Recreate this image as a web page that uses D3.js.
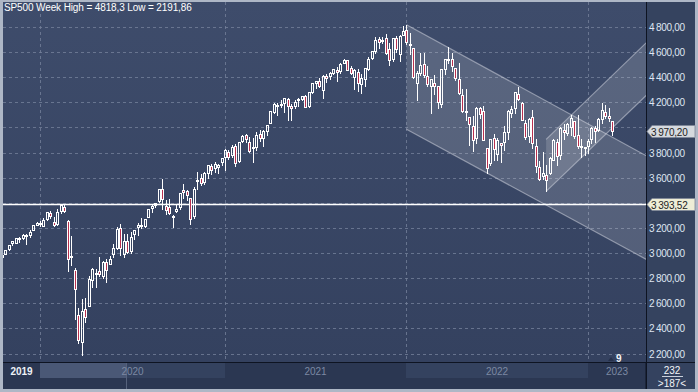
<!DOCTYPE html>
<html><head><meta charset="utf-8">
<script src="https://cdn.jsdelivr.net/npm/d3@7"></script>
<style>html,body{margin:0;padding:0;background:#aeb7c6;}svg{display:block;}</style>
</head><body>
<svg id="c" width="698" height="392"></svg>
<script>
// ---- DATA (weekly SP500 candles, week of 2019-10-14 .. 2023-02-21) ----
const weekStart = "2019-10-14";
const opens = [2965,2996,3032,3078,3080,3123,3117,3144,3141,3183,3226,
3240,3218,3271,3321,3248,3235,3335,3370,3257,2974,2863,2509,2290,2558,2578,2782,2845,2854,2815,2931,2913,2993,3038,3199,2993,3094,3018,3155,3205,3224,3219,3289,3356,3380,3418,3509,3371,3363,3285,3333,3368,3500,3493,3441,3296,3583,3600,3566,3641,3694,3675,3684,3723,
3764,3803,3781,3851,3732,3892,3939,3885,3842,3844,3949,3917,3969,4034,4124,4179,4185,4191,4228,4169,4170,4216,4229,4248,4173,4284,4356,4372,4296,4409,4406,4437,4461,4450,4514,4535,4474,4402,4442,4348,4385,4463,4553,4611,4701,4689,4712,4628,4548,4710,4588,4733,
4778,4655,4632,4356,4431,4505,4412,4332,4354,4327,4188,4462,4541,4547,4474,4385,4255,4131,4081,4013,3920,4151,4134,3838,3715,3920,3792,3880,3883,3966,4113,4155,4270,4195,4034,3930,4084,3849,3682,3610,3625,3638,3740,3881,3780,3977,3956,4006,4053,3940,3853,3843,
3853,3910,3999,3979,4071,4120,4095,4052];
const highs = [3000,3027,3066,3098,3121,3127,3154,3150,3183,3226,3247,
3258,3282,3330,3337,3285,3347,3385,3393.52,3260,3137,2882,2562,2637,2641,2818,2880,2870,2965,2933,2955,2980,3068,3211,3233,3155,3155,3165,3185,3240,3280,3272,3352,3387,3399,3509,3588,3425,3428,3306,3393,3482,3550,3502,3441,3529,3646,3628,3645,3699,3712,3726,3711,3760,
3826,3823,3861,3871,3887,3937,3950,3928,3914,3960,3983,3978,4020,4129,4191,4194,4218,4238,4237,4187,4220,4234,4249,4262,4286,4356,4372,4393,4415,4429,4440,4469,4481,4510,4545,4536,4492,4465,4465,4429,4475,4559,4608,4719,4718,4718,4744,4672,4713,4731,4740,4808,
4818.3,4749,4632,4453,4595,4590,4489,4385,4416,4327,4465,4546,4637,4593,4475,4513,4308,4307,4081,4091,4159,4166,4169,3838,3912,3946,3918,3880,4012,4141,4167,4281,4325,4203,4062,4076,4140,3907,3736,3806,3699,3764,3906,3911,4001,4028,4034,4100,4054,4101,3906,3846,
3906,4003,4015,4078,4195,4176,4156,4052];
const lows = [2952,2991,3024,3066,3078,3091,3114,3070,3129,3183,3223,
3213,3214,3262,3280,3214,3224,3315,3328,2856,2902,2478,2280,2191.86,2447,2578,2727,2727,2815,2798,2766,2910,2969,3033,2984,2965,3003,3000,3115,3141,3201,3209,3284,3327,3363,3404,3349,3310,3313,3209,3323,3354,3441,3424,3233,3280,3511,3543,3549,3594,3633,3647,3636,3699,
3663,3749,3768,3694,3725,3884,3885,3805,3723,3818,3894,3853,3937,4034,4118,4098,4165,4126,4057,4061,4155,4168,4220,4164,4165,4271,4315,4321,4233,4360,4385,4425,4368,4436,4513,4457,4427,4305,4288,4278,4329,4459,4546,4595,4630,4672,4585,4495,4532,4600,4532,4733,
4662,4582,4395,4222,4414,4401,4327,4114,4267,4157,4162,4425,4517,4450,4381,4267,4124,4063,3859,3811,3875,4073,3900,3637,3705,3741,3742,3721,3818,3911,4080,4112,4218,4057,3907,3886,3838,3647,3584,3590,3491,3630,3740,3700,3751,3906,3938,3938,3918,3838,3764,3783,
3794,3878,3885,3974,4037,4079,4048,3943];
const closes = [2986,3023,3067,3093,3120,3110,3141,3146,3169,3221,3240,
3235,3265,3330,3295,3225,3328,3380,3338,2954,2972,2711,2305,2541,2489,2790,2875,2837,2831,2930,2864,2955,3044,3194,3041,3098,3009,3130,3185,3225,3216,3271,3351,3373,3397,3508,3427,3341,3319,3298,3348,3477,3483,3465,3270,3509,3585,3558,3638,3699,3663,3709,3703,3756,
3824,3768,3841,3714,3886,3934,3906,3811,3842,3943,3913,3974,4019,4128,4185,4180,4181,4232,4174,4156,4204,4229,4247,4166,4281,4352,4369,4327,4411,4395,4437,4468,4441,4509,4535,4458,4433,4455,4357,4391,4471,4545,4605,4697,4683,4698,4595,4538,4712,4621,4725,4766,
4677,4663,4398,4432,4500,4419,4349,4385,4329,4204,4463,4543,4546,4488,4392,4272,4132,4123,4024,3901,4158,4109,3901,3675,3912,3825,3899,3863,3962,4130,4145,4280,4228,4057,3924,4067,3873,3693,3586,3640,3583,3753,3901,3771,3993,3965,4026,4072,3934,3852,3845,3840,
3895,3999,3973,4071,4136,4090,4079,3970.2];

const yTicks = [4800,4600,4400,4200,4000,3800,3600,3400,3200,3000,2800,2600,2400,2200];
const yTickShown = [4800,4600,4400,4200,3800,3600,3200,3000,2800,2600,2400,2200];
const yearLabels = ["2019","2020","2021","2022","2023"];
const yearStartIdx = [0,11,64,116,168];
const refLevel = 3393.52;
const lastClose = 3970.20;
const titleText = "SP500 Week High = 4818,3 Low = 2191,86";
// channel lines: [index, price]
const downTop = [[116,4818.3],[186,3755]];
const downBottom = [[116,3985],[186,2930]];
const upTop = [[156,3905],[186,4710]];
const upBottom = [[156,3491],[186,4290]];
const footTop = "232", footBottom = ">187<", barCountMark = "9";

// ---- LAYOUT ----
const svg = d3.select("#c");
const PL=3, PR=646, PT=2, PB=362;
const x = d3.scaleLinear().domain([11,168]).range([40,588]);
const y = d3.scaleLinear().domain([2200,4800]).range([353.5,27]);
const loc = d3.formatLocale({decimal:",", thousands:"\u2009", grouping:[3], currency:["",""]});
const fmt = loc.format(",.2f");
const font = "'Liberation Sans', Arial, sans-serif";

const defs = svg.append("defs");
const g1 = defs.append("linearGradient").attr("id","bg").attr("x1",0).attr("y1",0).attr("x2",0).attr("y2",1);
g1.append("stop").attr("offset","0%").attr("stop-color","#3e4c6b");
g1.append("stop").attr("offset","100%").attr("stop-color","#34415f");
defs.append("clipPath").attr("id","pc").append("rect").attr("x",PL).attr("y",PT).attr("width",PR-PL).attr("height",PB-PT);

svg.append("rect").attr("width",698).attr("height",392).attr("fill","#aeb7c6");
svg.append("rect").attr("x",PL).attr("y",PT).attr("width",PR-PL).attr("height",PB-PT).attr("fill","url(#bg)");
svg.append("rect").attr("x",PR+1).attr("y",PT).attr("width",695-PR-1).attr("height",PB-PT).attr("fill","#35435f");
svg.append("rect").attr("x",PL).attr("y",PB+1).attr("width",695-PL).attr("height",389-PB-1).attr("fill","#2b3752");

// grid
const grid = svg.append("g").attr("clip-path","url(#pc)");
grid.selectAll("line.h").data(yTicks).join("line")
  .attr("x1",PL).attr("x2",PR).attr("y1",d=>Math.round(y(d))+0.5).attr("y2",d=>Math.round(y(d))+0.5)
  .attr("stroke","#74809a").attr("stroke-dasharray","3,3").attr("stroke-width",1).attr("opacity",0.8);
grid.selectAll("line.v").data(yearStartIdx.slice(1)).join("line")
  .attr("x1",d=>Math.round(x(d))+0.5).attr("x2",d=>Math.round(x(d))+0.5).attr("y1",PT).attr("y2",PB)
  .attr("stroke","#74809a").attr("stroke-dasharray","3,3").attr("stroke-width",1).attr("opacity",0.8);

// channels
const ch = svg.append("g").attr("clip-path","url(#pc)");
function poly(top,bot){
  return [[x(top[0][0]),y(top[0][1])],[x(top[1][0]),y(top[1][1])],[x(bot[1][0]),y(bot[1][1])],[x(bot[0][0]),y(bot[0][1])]];
}
[[downTop,downBottom],[upTop,upBottom]].forEach(([t,b])=>{
  ch.append("path").attr("d","M"+poly(t,b).join("L")+"Z").attr("fill","rgba(255,255,255,0.15)");
  [t,b].forEach(l=>{
    ch.append("line").attr("x1",x(l[0][0])).attr("y1",y(l[0][1])).attr("x2",x(l[1][0])).attr("y2",y(l[1][1]))
      .attr("stroke","rgba(205,210,220,0.55)").attr("stroke-width",1.2);
  });
});

// reference line
svg.append("line").attr("x1",PL).attr("x2",PR).attr("y1",Math.round(y(refLevel))+0.5).attr("y2",Math.round(y(refLevel))+0.5)
  .attr("stroke","#ffffff").attr("stroke-width",1.3);

// candles
const cg = svg.append("g").attr("clip-path","url(#pc)");
const idx = d3.range(opens.length);
idx.forEach(i=>{
  const o=opens[i],h=highs[i],l=lows[i],c=closes[i];
  const cx = Math.round(x(i));
  const yt = Math.round(y(Math.max(o,c))), yb = Math.round(y(Math.min(o,c)));
  const yh = Math.round(y(h)), yl = Math.round(y(l));
  const bh = Math.max(1, yb-yt);
  cg.append("line").attr("x1",cx+0.5).attr("x2",cx+0.5).attr("y1",yh).attr("y2",yt).attr("stroke","#fff").attr("stroke-width",1);
  cg.append("line").attr("x1",cx+0.5).attr("x2",cx+0.5).attr("y1",yt+bh).attr("y2",yl+1).attr("stroke","#fff").attr("stroke-width",1);
  cg.append("rect").attr("x",cx-0.5).attr("y",yt+0.5).attr("width",2).attr("height",bh)
    .attr("fill", c<o ? "#b8304f" : "none").attr("stroke","#fff").attr("stroke-width",1);
});

// separators
svg.append("line").attr("x1",PR+0.5).attr("x2",PR+0.5).attr("y1",PT).attr("y2",389).attr("stroke","#0e1422");
svg.append("line").attr("x1",PL).attr("x2",695).attr("y1",PB+0.5).attr("y2",PB+0.5).attr("stroke","#0e1422");

// y axis labels
svg.append("g").selectAll("text").data(yTickShown).join("text")
  .attr("x",649).attr("y",d=>y(d)+4).text(d=>fmt(d))
  .attr("fill","#dfe6f2").attr("font-family",font).attr("font-size",10).attr("letter-spacing","-0.3");

// price tags
function tag(v,bg){
  const yc = Math.round(y(v))+0.5;
  svg.append("path").attr("d",`M647,${yc} L652,${yc-6} L695,${yc-6} L695,${yc+6} L652,${yc+6} Z`)
    .attr("fill",bg).attr("stroke","#7d8698").attr("stroke-width",0.8);
  svg.append("text").attr("x",651).attr("y",yc+4).text(fmt(v)).attr("fill","#222").attr("font-family",font)
    .attr("font-size",10).attr("letter-spacing","-0.2");
}
tag(lastClose,"#d5d9de");
tag(refLevel,"#eeedd6");

// title
svg.append("text").attr("x",4).attr("y",11).text(titleText).attr("fill","#fff")
  .attr("font-family",font).attr("font-size",10).attr("letter-spacing","-0.12");

// bottom year strip
const yb0 = PB+1, yb1 = 378;
const yearEdges = yearStartIdx.map((d,i)=> i===0 ? PL : Math.round(x(d))).concat([PR]);
yearLabels.forEach((lab,i)=>{
  const x0=yearEdges[i], x1=yearEdges[i+1];
  svg.append("rect").attr("x",x0).attr("y",yb0).attr("width",x1-x0).attr("height",yb1-yb0)
    .attr("fill", i%2===1 ? "#34425f" : "#2b3752");
});
svg.append("rect").attr("x",yearEdges[1]).attr("y",yb0).attr("width",126-yearEdges[1]).attr("height",yb1-yb0).attr("fill","#4a5876");
svg.append("line").attr("x1",126.5).attr("x2",126.5).attr("y1",yb0).attr("y2",389).attr("stroke","#56627c");
yearLabels.forEach((lab,i)=>{
  const x0=yearEdges[i], x1=yearEdges[i+1];
  svg.append("text").attr("x",(x0+x1)/2).attr("y",375).attr("text-anchor","middle").text(lab)
    .attr("fill", i===0 ? "#eef1f7" : "#7c89a3").attr("font-family",font).attr("font-size",10)
    .attr("font-weight", i===0 ? "bold":"normal");
});
svg.append("line").attr("x1",PR).attr("x2",PR).attr("y1",yb0).attr("y2",389).attr("stroke","#0e1422");
svg.append("rect").attr("x",PR+1).attr("y",yb0).attr("width",695-PR-1).attr("height",389-yb0).attr("fill","#34425f");

// bar mark "9"
svg.append("path").attr("d","M608,361 L611,357 L614,361 Z").attr("fill","#26314a");
svg.append("text").attr("x",616).attr("y",361.5).text(barCountMark).attr("fill","#f2f4f8")
  .attr("font-family",font).attr("font-size",10).attr("font-weight","bold");

// footer box
svg.append("text").attr("x",672).attr("y",374).attr("text-anchor","middle").text(footTop)
  .attr("fill","#f2f4f8").attr("font-family",font).attr("font-size",10);
svg.append("line").attr("x1",662).attr("x2",683).attr("y1",376.5).attr("y2",376.5).attr("stroke","#c9d0dc");
svg.append("text").attr("x",672).attr("y",387).attr("text-anchor","middle").text(footBottom)
  .attr("fill","#f2f4f8").attr("font-family",font).attr("font-size",10);
</script>
</body></html>
